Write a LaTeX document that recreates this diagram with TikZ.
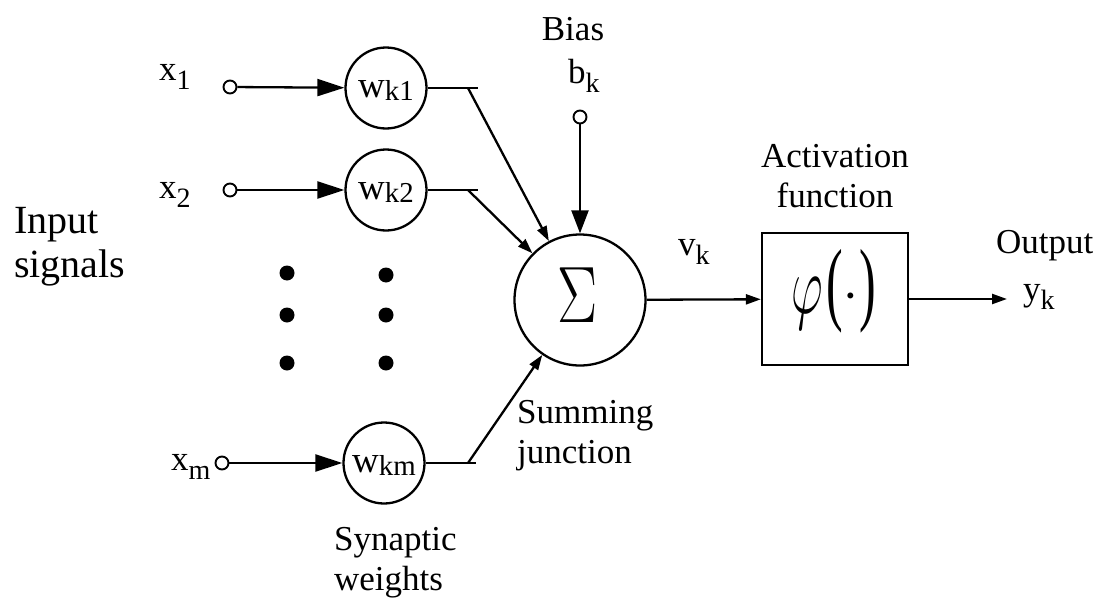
\documentclass[tikz,border=0pt]{standalone}
\usepackage{fix-cm}
\usepackage{fontspec}
\setmainfont{Liberation Serif}
\usetikzlibrary{arrows.meta}
\newcommand\lowsub[1]{\raisebox{-0.28em}{\scalebox{0.8}{#1}}}
\newcommand\wtxt[2]{\raisebox{-9pt}[0pt][0pt]{#1\raisebox{-0.1em}{\scalebox{0.78}{#2}}}}
\begin{document}
\begin{tikzpicture}[x=1pt,y=-1pt,line width=2.3pt,
  wt/.style={draw,circle,minimum size=81pt,inner sep=0pt,font=\fontsize{37}{40}\selectfont},
  term/.style={draw,circle,minimum size=13pt,inner sep=0pt,line width=1.9pt},
  lbl/.style={inner sep=0pt,font=\fontsize{35}{40}\selectfont},
  biglbl/.style={inner sep=0pt,font=\fontsize{40}{44}\selectfont},
  bigarr/.style={-{Triangle[length=27pt,width=17pt]}},
  smarr/.style={-{Triangle[length=15pt,width=10pt]}},
  blob/.style={fill,circle,minimum size=15pt,inner sep=0pt}]
\useasboundingbox (0,0) rectangle (1109,605);
% input terminals
\node[term] (in1) at (230,87) {};
\node[term] (in2) at (230,190) {};
\node[term] (inm) at (222,463) {};
\node[lbl,anchor=base west] (lx1) at (158,80) {x\lowsub{1}};
\node[lbl,anchor=base west] (lx2) at (158,198) {x\lowsub{2}};
\node[lbl,anchor=base west] (lxm) at (170,470) {x\lowsub{m}};
% weights
\node[wt] (wk1) at (386,88) {\wtxt{w}{k1}};
\node[wt] (wk2) at (386,190) {\wtxt{w}{k2}};
\node[wt] (wkm) at (384,463) {\wtxt{w}{km}};
\draw[bigarr] (in1) -- (wk1);
\draw[bigarr] (in2) -- (wk2);
\draw[bigarr] (inm) -- (wkm);
% dots
\node[blob] (a1) at (287,273) {};
\node[blob] (a2) at (287,315) {};
\node[blob] (a3) at (287,363) {};
\node[blob] (b1) at (386,275) {};
\node[blob] (b2) at (386,315) {};
\node[blob] (b3) at (386,363) {};
% summing junction
\node[draw,circle,minimum size=131pt,inner sep=0pt] (sum) at (580,300) {};
\node[inner sep=0pt,font=\fontsize{80}{80}\selectfont] (sig) at (578,295) {\scalebox{0.75}[1]{$\Sigma$}};
\coordinate (j1) at (478,88);
\coordinate (j2) at (478,190);
\coordinate (jm) at (476,463);
\coordinate (d1) at (468,88);
\coordinate (d2) at (468,190);
\coordinate (dm) at (468,463);
\draw (wk1) -- (j1);
\draw (wk2) -- (j2);
\draw (wkm) -- (jm);
\draw[smarr] (d1) -- (sum);
\draw[smarr] (d2) -- (sum);
\draw[smarr] (dm) -- (sum);
% bias
\node[term] (bias) at (580,117) {};
\node[lbl,anchor=base] (lbias) at (573,40) {Bias};
\node[lbl,anchor=base west] (lbk) at (567,83) {b\lowsub{k}};
\draw[-{Triangle[length=23pt,width=17pt]}] (bias) -- (sum);
% activation
\node[draw,minimum width=146pt,minimum height=132pt,inner sep=0pt] (phi) at (835,299) {};
\node[inner sep=0pt] (phitxt) at (834,291) {\scalebox{0.82}[1.39]{\fontsize{60}{60}\selectfont$\varphi$}\hspace{3pt}\fontsize{50}{50}\selectfont\scalebox{1}[1.85]{(}\raisebox{0.02em}{·}\scalebox{1}[1.85]{)}};
\draw[smarr] (sum) -- (phi);
\node[lbl,anchor=base west] (lvk) at (677,255) {v\lowsub{k}};
\node[lbl,anchor=base,align=center] (lact) at (835,207) {Activation\\function};
% output
\coordinate (out) at (1007,299);
\draw[smarr] (phi) -- (out);
\node[lbl,anchor=base west] (lout) at (995,253) {Output};
\node[lbl,anchor=base west] (lyk) at (1022,300) {y\lowsub{k}};
% other labels
\node[biglbl,anchor=base west,align=left] (lin) at (13,277) {Input\\signals};
\node[lbl,anchor=base west,align=left] (lsum) at (516,463) {Summing\\junction};
\node[lbl,anchor=base west,align=left] (lsyn) at (333,590) {Synaptic\\weights};
\end{tikzpicture}
\end{document}
